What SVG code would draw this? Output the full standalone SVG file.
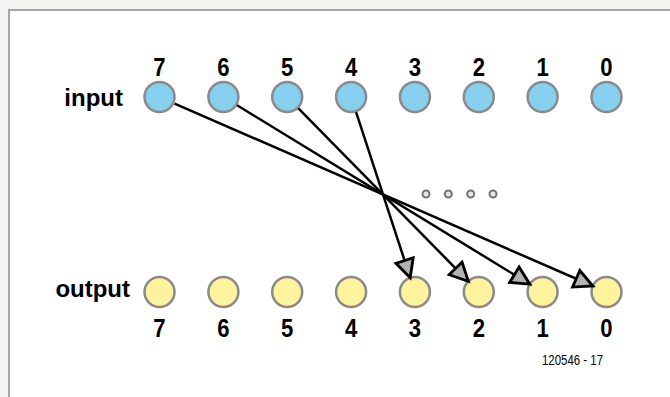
<svg xmlns="http://www.w3.org/2000/svg" width="670" height="397" viewBox="0 0 670 397">
<style>
.lbl{font-family:"Liberation Sans",Arial,sans-serif;font-weight:bold;font-size:24px;fill:#000}
.num{font-family:"Liberation Sans",Arial,sans-serif;font-weight:bold;font-size:26px;fill:#000;text-anchor:middle}
.in{fill:#86cfee;stroke:#8a8a8a;stroke-width:2.5}
.out{fill:#fdf39c;stroke:#8a8a8a;stroke-width:2.5}
.dot{fill:#e6e6e6;stroke:#737373;stroke-width:2}
.conn{stroke:#000;stroke-width:2.5;fill:none;marker-end:url(#arr)}
.note{font-family:"Liberation Sans",Arial,sans-serif;font-size:15px;fill:#000}
</style>
<defs>
<marker id="arr" markerUnits="userSpaceOnUse" markerWidth="26" markerHeight="26" viewBox="-3 -3 23 23" refX="16" refY="8" orient="auto">
<path d="M0,0 L16,8 L0,16 Z" fill="#b3b3b3" stroke="#000" stroke-width="2.5" stroke-linejoin="miter"/>
</marker>
</defs>
<rect x="0" y="0" width="670" height="397" fill="#f4f4f2"/>
<rect x="9" y="10" width="700" height="420" fill="#fff" stroke="#a6a6a6" stroke-width="2"/>

<text class="lbl" x="123" y="106" text-anchor="end">input</text>
<text class="lbl" x="130" y="297" text-anchor="end">output</text>

<g id="in7"><circle class="in" cx="159.5" cy="97" r="15"/><text class="num" transform="translate(159.5,76) scale(0.85,1)">7</text></g>
<g id="in6"><circle class="in" cx="223.4" cy="97" r="15"/><text class="num" transform="translate(223.4,76) scale(0.85,1)">6</text></g>
<g id="in5"><circle class="in" cx="287.2" cy="97" r="15"/><text class="num" transform="translate(287.2,76) scale(0.85,1)">5</text></g>
<g id="in4"><circle class="in" cx="351.1" cy="97" r="15"/><text class="num" transform="translate(351.1,76) scale(0.85,1)">4</text></g>
<g id="in3"><circle class="in" cx="414.9" cy="97" r="15"/><text class="num" transform="translate(414.9,76) scale(0.85,1)">3</text></g>
<g id="in2"><circle class="in" cx="478.8" cy="97" r="15"/><text class="num" transform="translate(478.8,76) scale(0.85,1)">2</text></g>
<g id="in1"><circle class="in" cx="542.6" cy="97" r="15"/><text class="num" transform="translate(542.6,76) scale(0.85,1)">1</text></g>
<g id="in0"><circle class="in" cx="606.5" cy="97" r="15"/><text class="num" transform="translate(606.5,76) scale(0.85,1)">0</text></g>

<g id="out7"><circle class="out" cx="159.5" cy="292" r="15"/><text class="num" transform="translate(159.5,337) scale(0.85,1)">7</text></g>
<g id="out6"><circle class="out" cx="223.4" cy="292" r="15"/><text class="num" transform="translate(223.4,337) scale(0.85,1)">6</text></g>
<g id="out5"><circle class="out" cx="287.2" cy="292" r="15"/><text class="num" transform="translate(287.2,337) scale(0.85,1)">5</text></g>
<g id="out4"><circle class="out" cx="351.1" cy="292" r="15"/><text class="num" transform="translate(351.1,337) scale(0.85,1)">4</text></g>
<g id="out3"><circle class="out" cx="414.9" cy="292" r="15"/><text class="num" transform="translate(414.9,337) scale(0.85,1)">3</text></g>
<g id="out2"><circle class="out" cx="478.8" cy="292" r="15"/><text class="num" transform="translate(478.8,337) scale(0.85,1)">2</text></g>
<g id="out1"><circle class="out" cx="542.6" cy="292" r="15"/><text class="num" transform="translate(542.6,337) scale(0.85,1)">1</text></g>
<g id="out0"><circle class="out" cx="606.5" cy="292" r="15"/><text class="num" transform="translate(606.5,337) scale(0.85,1)">0</text></g>

<g id="ellipsis">
<circle class="dot" cx="426" cy="194" r="3.5"/>
<circle class="dot" cx="448.3" cy="194" r="3.5"/>
<circle class="dot" cx="470.7" cy="194" r="3.5"/>
<circle class="dot" cx="493" cy="194" r="3.5"/>
</g>

<g id="connectors">
<line class="conn" x1="174.6" y1="103.6" x2="592.8" y2="286"/>
<line class="conn" x1="237.1" y1="105.3" x2="529.8" y2="284.2"/>
<line class="conn" x1="298.4" y1="108.4" x2="468.3" y2="281.3"/>
<line class="conn" x1="356.1" y1="112.2" x2="410.2" y2="277.7"/>
</g>

<text class="note" x="542" y="365" textLength="61" lengthAdjust="spacingAndGlyphs">120546 - 17</text>
</svg>
